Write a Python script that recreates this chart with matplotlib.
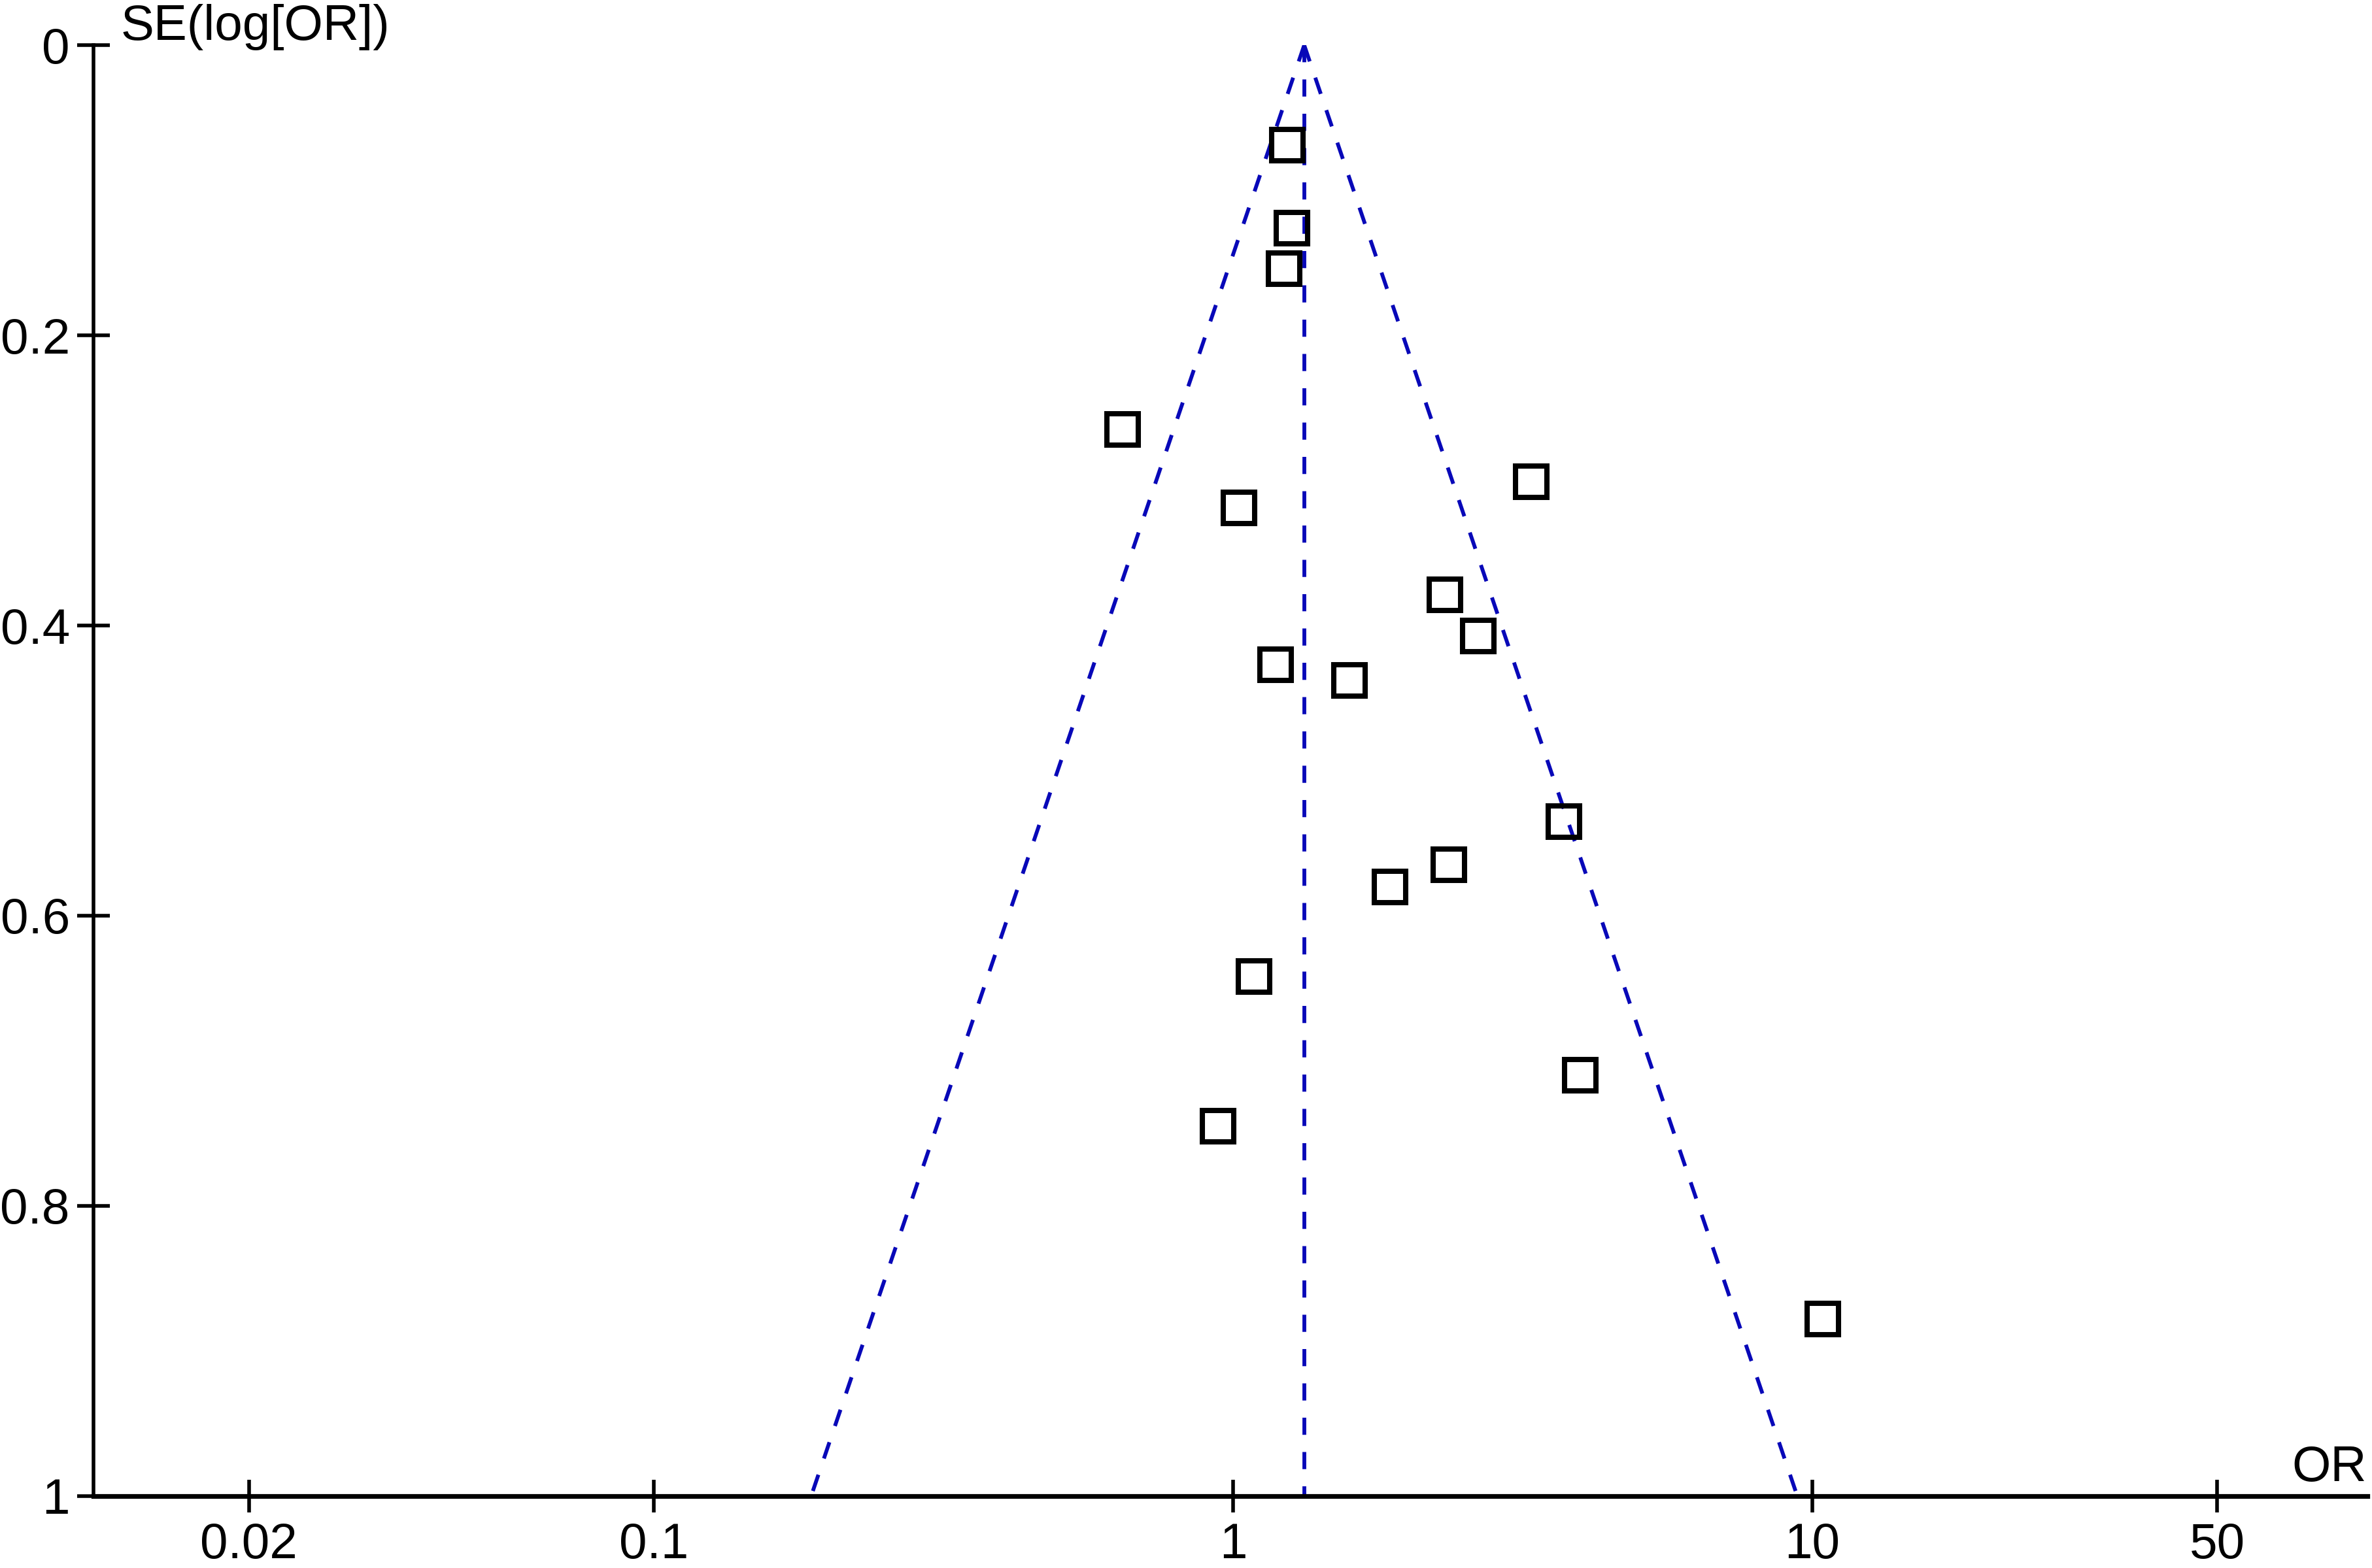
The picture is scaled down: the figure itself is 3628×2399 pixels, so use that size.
import numpy as np
import matplotlib
matplotlib.use("Agg")
import matplotlib.pyplot as plt

plt.rcParams['font.family'] = ['Liberation Sans', 'DejaVu Sans']

# study odds ratios and standard errors of log(OR)
odds_ratio = [1.241, 1.264, 1.226, 0.644, 3.27, 1.024, 2.32, 2.65, 1.183,
              1.588, 3.73, 2.36, 1.868, 1.087, 3.98, 0.941, 10.42]
se_log_or = [0.069, 0.126, 0.154, 0.265, 0.301, 0.319, 0.379, 0.407, 0.427,
             0.438, 0.535, 0.565, 0.580, 0.642, 0.710, 0.745, 0.878]

pooled_or = 1.327
se_max = 1.0

x_ticks = [0.02, 0.1, 1, 10, 50]
x_tick_labels = ['0.02', '0.1', '1', '10', '50']
y_ticks = [0, 0.2, 0.4, 0.6, 0.8, 1]
y_tick_labels = ['0', '0.2', '0.4', '0.6', '0.8', '1']

blue = '#0808b8'

fig = plt.figure(figsize=(18.14, 11.995), dpi=200)
ax = fig.add_axes([0.0394, 0.0459, 0.9586, 0.9253])

# funnel (95% pseudo confidence limits) and pooled estimate
se_line = np.array([0, se_max])
dash = (0, (4.5, 4.5))
ax.plot(pooled_or * np.exp(-1.96 * se_line), se_line, color=blue, lw=2.1,
        linestyle=dash)
ax.plot(pooled_or * np.exp(1.96 * se_line), se_line, color=blue, lw=2.1,
        linestyle=dash)
ax.plot([pooled_or, pooled_or], se_line, color=blue, lw=2.1, linestyle=dash)

ax.plot(odds_ratio, se_log_or, linestyle='none', marker='s', markersize=17.5,
        markerfacecolor='none', markeredgecolor='black', markeredgewidth=2.9)

ax.set_xscale('log')
ax.set_xlim(0.01078, 90.8)
ax.set_ylim(1, 0)

ax.xaxis.set_minor_locator(matplotlib.ticker.NullLocator())
ax.set_xticks(x_ticks)
ax.set_xticklabels(x_tick_labels)
ax.set_yticks(y_ticks)
ax.set_yticklabels(y_tick_labels)

ax.spines['top'].set_visible(False)
ax.spines['right'].set_visible(False)
ax.spines['left'].set_linewidth(2.0)
ax.spines['bottom'].set_linewidth(2.6)

ax.tick_params(axis='both', direction='inout', length=18, width=2.0,
               labelsize=27.5, colors='black')
ax.tick_params(axis='x', pad=5.5)
ax.tick_params(axis='y', pad=4)

fig.text(185 / 3628, 1 - 61 / 2399, 'SE(log[OR])', fontsize=27.5,
         ha='left', va='baseline')
fig.text(3620 / 3628, 1 - 2266 / 2399, 'OR', fontsize=27.5,
         ha='right', va='baseline')

fig.savefig('out.png', dpi=200, facecolor='white')
